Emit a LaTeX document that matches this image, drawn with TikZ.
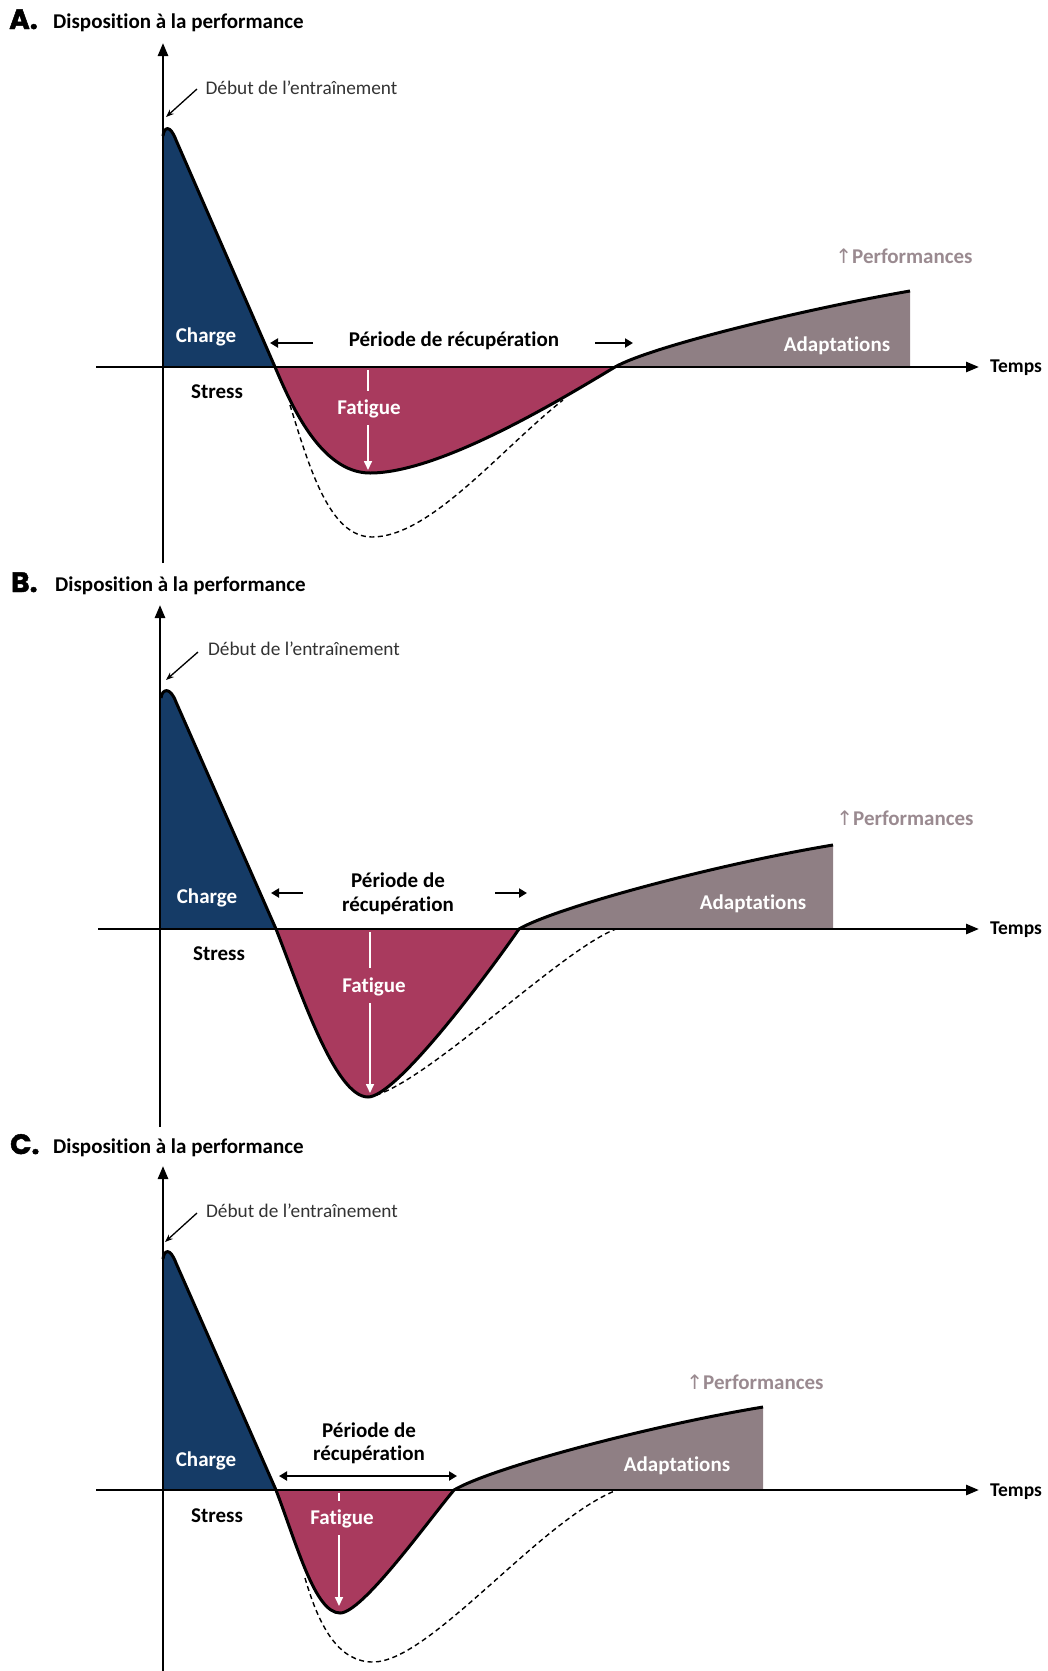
\documentclass[tikz,border=0pt]{standalone}
\usepackage{fontspec}
\setmainfont{Carlito}[Ligatures=NoCommon]
\newfontfamily\heavyfont{Poppins}[BoldFeatures={FakeBold=1.6}]
\newfontfamily\symfont{DejaVu Sans}
\usetikzlibrary{arrows.meta}
\definecolor{navy}{HTML}{153B66}
\definecolor{crim}{HTML}{A93A5E}
\definecolor{mauve}{HTML}{8F7F84}
\definecolor{perf}{HTML}{9A8A90}
\definecolor{thintext}{HTML}{333333}
\begin{document}
\begin{tikzpicture}[x=1pt,y=-1pt,
  axis/.style={line width=2.6pt,-{Triangle[length=13pt,width=10pt]}},
  curve/.style={line width=3pt,line join=round},
  dashcurve/.style={line width=1.4pt,dash pattern=on 5pt off 3.5pt},
  lbl/.style={font=\bfseries\fontsize{21}{24}\selectfont,inner sep=0pt,anchor=base},
  wlbl/.style={lbl,text=white},
  tlbl/.style={font=\fontsize{19.3}{22}\selectfont,text=thintext,inner sep=0pt,anchor=base},
  plbl/.style={lbl,text=perf},
  title/.style={font=\bfseries\fontsize{21}{24}\selectfont,inner sep=0pt,anchor=base west},
  letter/.style={font=\heavyfont\bfseries\fontsize{28}{30}\selectfont,inner sep=0pt,anchor=base west},
  thinarrow/.style={line width=1.3pt,-{Stealth[length=8pt,width=6pt]}},
  recarrow/.style={line width=2.5pt,-{Triangle[length=8pt,width=9pt]}},
  recdouble/.style={line width=2.5pt,{Triangle[length=8pt,width=9pt]}-{Triangle[length=8pt,width=9pt]}},
  fatline/.style={white,line width=1.6pt},
  fatarrow/.style={white,line width=1.6pt,-{Triangle[length=9pt,width=8pt]}}
]
\useasboundingbox (0,0) rectangle (1048,1671);
\newcommand{\uparr}{{\symfont\mdseries\fontsize{20}{22}\selectfont ↑}}

% ================= Panel A =================
\fill[navy] (163,367) -- (163,136) .. controls (164,127) and (170,124) .. (176,140) -- (275,367) -- cycle;
\fill[crim] (275,367) .. controls (290,402) and (320,473) .. (370,473) .. controls (440,473) and (560,400) .. (615,367) -- cycle;
\fill[mauve] (615,367) .. controls (650,347) and (800,310) .. (910,291) -- (910,367) -- cycle;
\draw[dashcurve] (290,405) .. controls (310,470) and (330,537) .. (372,537) .. controls (430,537) and (500,450) .. (563,400);
\draw[curve] (163,136) .. controls (164,127) and (170,124) .. (176,140) -- (275,367)
  .. controls (290,402) and (320,473) .. (370,473) .. controls (440,473) and (560,400) .. (615,367)
  .. controls (650,347) and (800,310) .. (910,291);
\coordinate (Ayb) at (163,563); \coordinate (Ayt) at (163,43);
\coordinate (Axl) at (96,367); \coordinate (Axr) at (979,367);
\draw[axis] (Ayb) -- (Ayt);
\draw[axis] (Axl) -- (Axr);

\node[letter] (Alet) at (9,29) {A.};
\node[title] (Atitle) at (53,28) {Disposition à la performance};
\node[tlbl] (Adeb) at (301.5,94) {Début de l’entraînement};
\coordinate (AdebS) at (197,89); \coordinate (AdebE) at (166,117);
\draw[thinarrow] (AdebS) -- (AdebE);
\node[wlbl] (Acharge) at (206,342) {Charge};
\node[lbl] (Astress) at (217,398) {Stress};
\node[lbl] (Aper) at (454,346) {Période de récupération};
\coordinate (ArlS) at (313,343); \coordinate (ArlE) at (270,343);
\coordinate (ArrS) at (595,343); \coordinate (ArrE) at (633,343);
\draw[recarrow] (ArlS) -- (ArlE);
\draw[recarrow] (ArrS) -- (ArrE);
\node[wlbl] (Afat) at (369,414) {Fatigue};
\coordinate (Af1) at (368,370); \coordinate (Af2) at (368,391);
\coordinate (Af3) at (368,425); \coordinate (Af4) at (368,470);
\draw[fatline] (Af1) -- (Af2);
\draw[fatarrow] (Af3) -- (Af4);
\node[wlbl] (Aadapt) at (837,351) {Adaptations};
\node[plbl] (Aperf) at (904,263) {\uparr Performances};
\node[lbl,anchor=base west,font=\bfseries\fontsize{19.5}{22}\selectfont] (Atemps) at (990,372) {Temps};

% ================= Panel B =================
\fill[navy] (161,929) -- (161,698) .. controls (162,689) and (170,686) .. (176,702) -- (276,929) -- cycle;
\fill[crim] (276,929) .. controls (300,990) and (335,1097) .. (368,1097) .. controls (395,1097) and (480,985) .. (519,929) -- cycle;
\fill[mauve] (519,929) .. controls (557,907) and (718,864) .. (833,845) -- (833,929) -- cycle;
\draw[dashcurve] (368,1097) .. controls (420,1090) and (560,950) .. (616,929);
\draw[curve] (161,698) .. controls (162,689) and (170,686) .. (176,702) -- (276,929)
  .. controls (300,990) and (335,1097) .. (368,1097) .. controls (395,1097) and (480,985) .. (519,929)
  .. controls (557,907) and (718,864) .. (833,845);
\coordinate (Byb) at (160,1127); \coordinate (Byt) at (160,605);
\coordinate (Bxl) at (98,929); \coordinate (Bxr) at (979,929);
\draw[axis] (Byb) -- (Byt);
\draw[axis] (Bxl) -- (Bxr);

\node[letter] (Blet) at (11,592) {B.};
\node[title] (Btitle) at (55,591) {Disposition à la performance};
\node[tlbl] (Bdeb) at (304,655) {Début de l’entraînement};
\coordinate (BdebS) at (198,652); \coordinate (BdebE) at (166,680);
\draw[thinarrow] (BdebS) -- (BdebE);
\node[wlbl] (Bcharge) at (207,903) {Charge};
\node[lbl] (Bstress) at (219,960) {Stress};
\node[lbl] (Bper1) at (398,887) {Période de};
\node[lbl] (Bper2) at (398,911) {récupération};
\coordinate (BrlS) at (303,893); \coordinate (BrlE) at (271,893);
\coordinate (BrrS) at (495,893); \coordinate (BrrE) at (527,893);
\draw[recarrow] (BrlS) -- (BrlE);
\draw[recarrow] (BrrS) -- (BrrE);
\node[wlbl] (Bfat) at (374,992) {Fatigue};
\coordinate (Bf1) at (370,932); \coordinate (Bf2) at (370,968);
\coordinate (Bf3) at (370,1003); \coordinate (Bf4) at (370,1093);
\draw[fatline] (Bf1) -- (Bf2);
\draw[fatarrow] (Bf3) -- (Bf4);
\node[wlbl] (Badapt) at (753,909) {Adaptations};
\node[plbl] (Bperf) at (905,825) {\uparr Performances};
\node[lbl,anchor=base west,font=\bfseries\fontsize{19.5}{22}\selectfont] (Btemps) at (990,934) {Temps};

% ================= Panel C =================
\fill[navy] (163,1490) -- (163,1259) .. controls (164,1250) and (170,1247) .. (176,1263) -- (276,1490) -- cycle;
\fill[crim] (276,1490) .. controls (297,1545) and (315,1613) .. (340,1613) .. controls (362,1613) and (425,1525) .. (454,1490) -- cycle;
\fill[mauve] (454,1490) .. controls (491,1468) and (648,1426) .. (763,1407) -- (763,1490) -- cycle;
\draw[dashcurve] (305,1578) .. controls (320,1630) and (340,1662) .. (373,1662) .. controls (430,1662) and (540,1520) .. (617,1490);
\draw[curve] (163,1259) .. controls (164,1250) and (170,1247) .. (176,1263) -- (276,1490)
  .. controls (297,1545) and (315,1613) .. (340,1613) .. controls (362,1613) and (425,1525) .. (454,1490)
  .. controls (491,1468) and (648,1426) .. (763,1407);
\coordinate (Cyb) at (163,1671); \coordinate (Cyt) at (163,1166);
\coordinate (Cxl) at (96,1490); \coordinate (Cxr) at (979,1490);
\draw[axis] (Cyb) -- (Cyt);
\draw[axis] (Cxl) -- (Cxr);

\node[letter] (Clet) at (10,1154) {C.};
\node[title] (Ctitle) at (53,1153) {Disposition à la performance};
\node[tlbl] (Cdeb) at (302,1217) {Début de l’entraînement};
\coordinate (CdebS) at (197,1213); \coordinate (CdebE) at (165,1242);
\draw[thinarrow] (CdebS) -- (CdebE);
\node[wlbl] (Ccharge) at (206,1466) {Charge};
\node[lbl] (Cstress) at (217,1522) {Stress};
\node[lbl] (Cper1) at (369,1437) {Période de};
\node[lbl] (Cper2) at (369,1460) {récupération};
\coordinate (CrL) at (279,1476); \coordinate (CrR) at (457,1476);
\draw[recdouble] (CrL) -- (CrR);
\node[wlbl] (Cfat) at (342,1524) {Fatigue};
\coordinate (Cf1) at (339,1493); \coordinate (Cf2) at (339,1501);
\coordinate (Cf3) at (339,1535); \coordinate (Cf4) at (339,1606);
\draw[fatline] (Cf1) -- (Cf2);
\draw[fatarrow] (Cf3) -- (Cf4);
\node[wlbl] (Cadapt) at (677,1471) {Adaptations};
\node[plbl] (Cperf) at (755,1389) {\uparr Performances};
\node[lbl,anchor=base west,font=\bfseries\fontsize{19.5}{22}\selectfont] (Ctemps) at (990,1496) {Temps};
\end{tikzpicture}
\end{document}
